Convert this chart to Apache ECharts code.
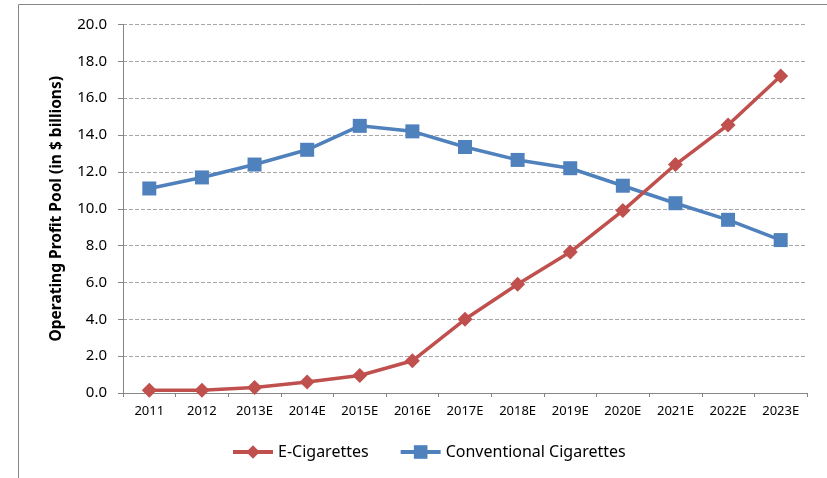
<!DOCTYPE html>
<html>
<head>
<meta charset="utf-8">
<script src="https://cdn.jsdelivr.net/npm/echarts@6/dist/echarts.min.js"></script>
<style>
  html, body { margin: 0; padding: 0; background: #fff; }
  #chart { width: 827px; height: 478px; }
</style>
</head>
<body>
<div id="chart"></div>
<script>
// Years on the category axis
const years = ['2011', '2012', '2013E', '2014E', '2015E', '2016E', '2017E', '2018E', '2019E', '2020E', '2021E', '2022E', '2023E'];
// Operating profit pool, $ billions
const eCigarettes = [0.15, 0.15, 0.3, 0.6, 0.95, 1.75, 4.0, 5.9, 7.65, 9.9, 12.4, 14.55, 17.2];
const conventionalCigarettes = [11.1, 11.7, 12.4, 13.2, 14.5, 14.2, 13.35, 12.65, 12.2, 11.25, 10.3, 9.4, 8.3];
// Value axis range
const yMin = 0, yMax = 20, yStep = 2;

const fontFamily = '"Noto Sans", "Open Sans", sans-serif';
const axisGray = '#868686';
const red = '#C0504D';
const blue = '#4F81BD';

const chart = echarts.init(document.getElementById('chart'), null, { renderer: 'canvas' });
chart.setOption({
  animation: false,
  backgroundColor: '#ffffff',
  graphic: [{
    type: 'rect',
    shape: { x: 18.5, y: 4.5, width: 900, height: 600 },
    style: { fill: 'none', stroke: axisGray, lineWidth: 1 },
    silent: true
  }],
  grid: { left: 123, top: 24.5, right: 20, bottom: 85, containLabel: false },
  legend: {
    bottom: 13,
    left: 226,
    itemWidth: 40,
    itemHeight: 17,
    itemGap: 30,
    textStyle: { fontFamily, fontSize: 16, color: '#000' },
    data: [
      { name: 'E-Cigarettes', lineStyle: { width: 4, color: red } },
      { name: 'Conventional Cigarettes', lineStyle: { width: 4, color: blue } }
    ]
  },
  xAxis: {
    type: 'category',
    data: years,
    boundaryGap: true,
    axisLine: { lineStyle: { color: axisGray, width: 1 } },
    axisTick: { show: true, length: 4, lineStyle: { color: axisGray } },
    axisLabel: { fontFamily, fontSize: 13, color: '#000', margin: 12, interval: 0 },
    splitLine: { show: false }
  },
  yAxis: {
    type: 'value',
    min: yMin,
    max: yMax,
    interval: yStep,
    name: 'Operating Profit Pool (in $ billions)',
    nameLocation: 'middle',
    nameGap: 58,
    nameRotate: 90,
    nameTextStyle: { fontFamily, fontSize: 15.5, fontWeight: 'bold', color: '#000' },
    axisLine: { show: true, lineStyle: { color: axisGray, width: 1 } },
    axisTick: { show: true, length: 5, lineStyle: { color: axisGray } },
    axisLabel: { fontFamily, fontSize: 15, color: '#000', margin: 16, formatter: v => v.toFixed(1) },
    splitLine: { show: true, lineStyle: { color: '#a6a6a6', type: [4, 2], width: 1 } }
  },
  series: [
    {
      name: 'E-Cigarettes',
      type: 'line',
      data: eCigarettes,
      symbol: 'diamond',
      symbolSize: 15,
      color: red,
      lineStyle: { width: 3.5, color: red },
      itemStyle: { color: red },
      z: 3
    },
    {
      name: 'Conventional Cigarettes',
      type: 'line',
      data: conventionalCigarettes,
      symbol: 'rect',
      symbolSize: 14,
      color: blue,
      lineStyle: { width: 3.5, color: blue },
      itemStyle: { color: blue },
      z: 2
    }
  ]
});
</script>
</body>
</html>
